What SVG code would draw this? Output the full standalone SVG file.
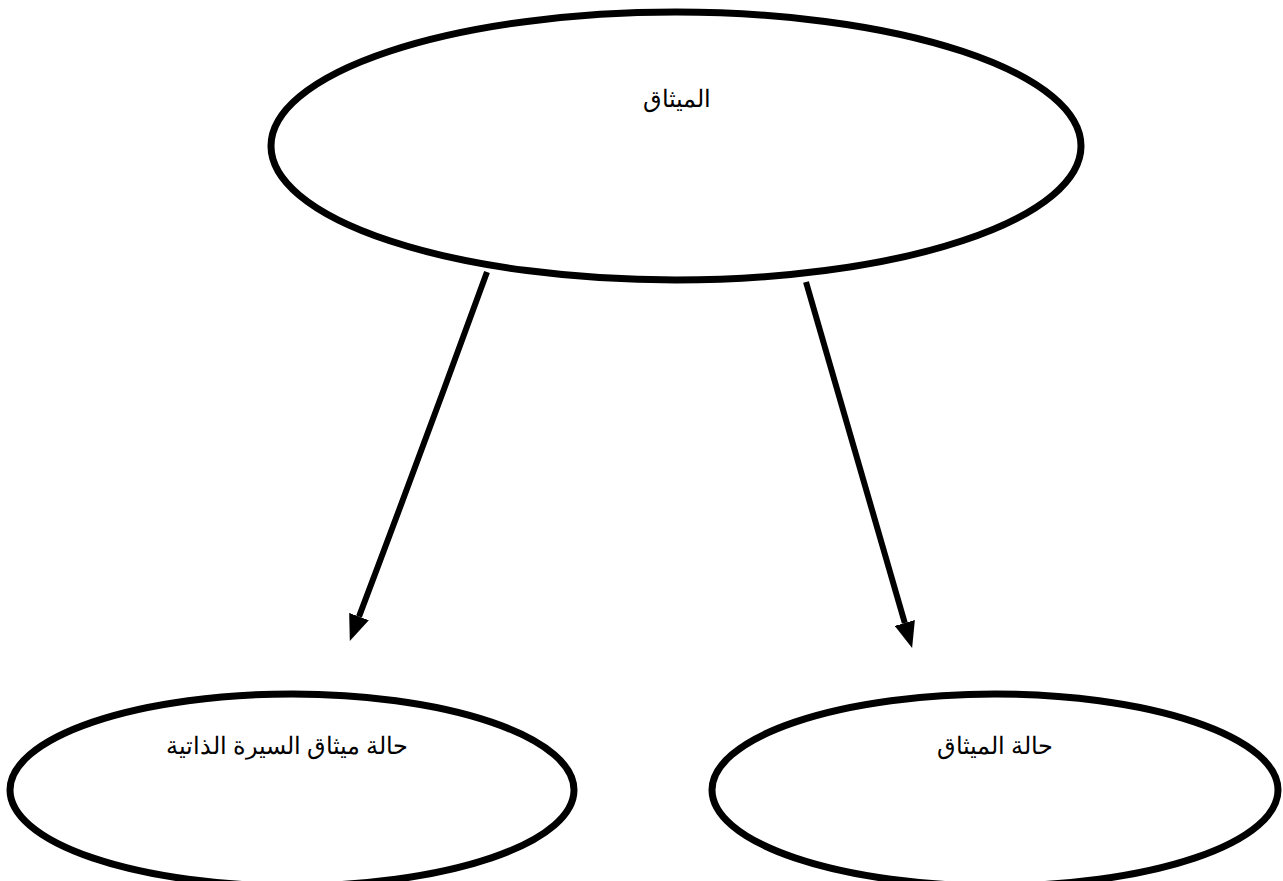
<svg xmlns="http://www.w3.org/2000/svg" width="1283" height="881" viewBox="0 0 1283 881">
<style>
.node{fill:#fff;stroke:#000;stroke-width:7}
.lbl{font-family:"Liberation Serif","DejaVu Serif",serif;font-size:24px;fill:#000;text-anchor:middle}
.edge{fill:none;stroke:#000;stroke-width:6}
</style>
<defs>
<marker id="ah" viewBox="0 0 26 21" refX="0" refY="10.5" markerWidth="26" markerHeight="21" orient="auto" markerUnits="userSpaceOnUse">
<path d="M0,0 L26,10.5 L0,21 Z" fill="#000"/>
</marker>
</defs>
<rect width="1283" height="881" fill="#fff"/>
<g id="n-top">
<ellipse class="node" cx="676" cy="146" rx="405" ry="134"/>
<text class="lbl" x="677" y="107" direction="rtl">الميثاق</text>
</g>
<g id="n-left">
<ellipse class="node" cx="292" cy="790" rx="282" ry="96"/>
<text class="lbl" x="287" y="754" direction="rtl">حالة ميثاق السيرة الذاتية</text>
</g>
<g id="n-right">
<ellipse class="node" cx="995" cy="790" rx="283" ry="96"/>
<text class="lbl" x="995" y="754" direction="rtl">حالة الميثاق</text>
</g>
<g id="connectors">
<path class="edge" d="M487,272 Q425,442 359,616.6" marker-end="url(#ah)"/>
<path class="edge" d="M806,282 Q857,460 904.8,623" marker-end="url(#ah)"/>
</g>
</svg>
